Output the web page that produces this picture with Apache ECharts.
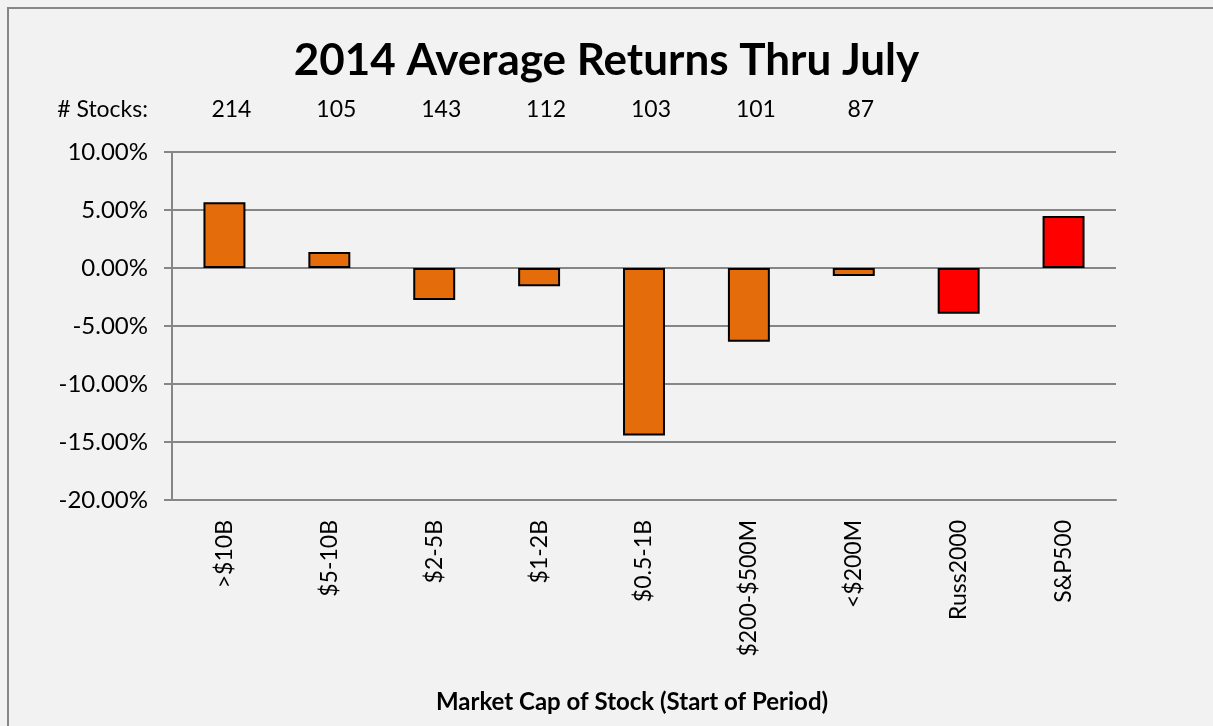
<!DOCTYPE html>
<html>
<head>
<meta charset="utf-8">
<script src="https://cdn.jsdelivr.net/npm/echarts@6/dist/echarts.min.js"></script>
<style>
  html, body { margin: 0; padding: 0; background: #f2f2f2; }
  #chart { width: 1213px; height: 726px; }
</style>
</head>
<body>
<div id="chart"></div>
<script>
// categories and values (percent)
var categories = ['>$10B', '$5-10B', '$2-5B', '$1-2B', '$0.5-1B', '$200-$500M', '<$200M', 'Russ2000', 'S&P500']
var returns = [5.66, 1.38, -2.75, -1.57, -14.45, -6.35, -0.68, -3.95, 4.48]
var stockCounts = ['214', '105', '143', '112', '103', '101', '87', '', '']
var isIndex = [false, false, false, false, false, false, false, true, true]

var yTicks = { min: -20, max: 10, interval: 5 }

var font = 'Lato, "Open Sans", sans-serif'
var myChart = echarts.init(document.getElementById('chart'))

var seriesData = returns.map(function(v, i) {
  return {
    value: v,
    itemStyle: { color: isIndex[i] ? '#ff0000' : '#e46c0a' }
  }
})

var option = {
  backgroundColor: '#f2f2f2',
  animation: false,
  title: {
    text: '2014 Average Returns Thru July',
    left: 'center',
    top: 34,
    textStyle: {
      fontFamily: font,
      fontWeight: 'bold',
      fontSize: 44,
      color: '#000000'
    }
  },
  graphic: [
    {
      type: 'rect',
      shape: { x: 8, y: 8, width: 1300, height: 800 },
      style: { fill: 'none', stroke: '#868686', lineWidth: 2 },
      silent: true
    }
  ],
  grid: {
    left: 172,
    right: 97,
    top: 152,
    bottom: 226
  },
  xAxis: [
    {
      type: 'category',
      data: categories,
      position: 'bottom',
      axisLine: { onZero: false, lineStyle: { color: '#868686', width: 2 } },
      axisTick: { show: false },
      axisLabel: {
        rotate: 90,
        margin: 20,
        fontFamily: font,
        fontSize: 23,
        color: '#000000'
      },
      name: 'Market Cap of Stock (Start of Period)',
      nameLocation: 'middle',
      nameGap: 190,
      nameTextStyle: {
        fontFamily: font,
        fontWeight: 'bold',
        fontSize: 24,
        color: '#000000',
        padding: [0, 24, 0, 0]
      }
    },
    {
      type: 'category',
      data: stockCounts,
      position: 'top',
      axisLine: { show: false },
      axisTick: { show: false },
      axisLabel: {
        margin: 31,
        fontFamily: font,
        fontSize: 23,
        color: '#000000',
        padding: [0, 0, 0, 14]
      }
    }
  ],
  yAxis: {
    type: 'value',
    min: yTicks.min,
    max: yTicks.max,
    interval: yTicks.interval,
    name: '# Stocks:',
    nameLocation: 'end',
    nameGap: 31,
    nameTextStyle: {
      fontFamily: font,
      fontSize: 23,
      color: '#000000',
      align: 'right',
      padding: [0, 24, 0, 0]
    },
    axisLine: { show: true, lineStyle: { color: '#868686', width: 2 } },
    axisTick: { show: true, length: 8, lineStyle: { color: '#868686', width: 2 } },
    axisLabel: {
      margin: 24,
      fontFamily: font,
      fontSize: 24,
      color: '#000000',
      formatter: function(v) {
        return v.toFixed(2) + '%'
      }
    },
    splitLine: {
      show: true,
      lineStyle: { color: '#868686', width: 2 }
    }
  },
  series: [
    {
      type: 'bar',
      data: seriesData,
      barWidth: '40%',
      itemStyle: {
        borderColor: '#000000',
        borderWidth: 2
      }
    }
  ]
}
myChart.setOption(option, true)
window.addEventListener('resize', () => {
  myChart.resize()
})
</script>
</body>
</html>
